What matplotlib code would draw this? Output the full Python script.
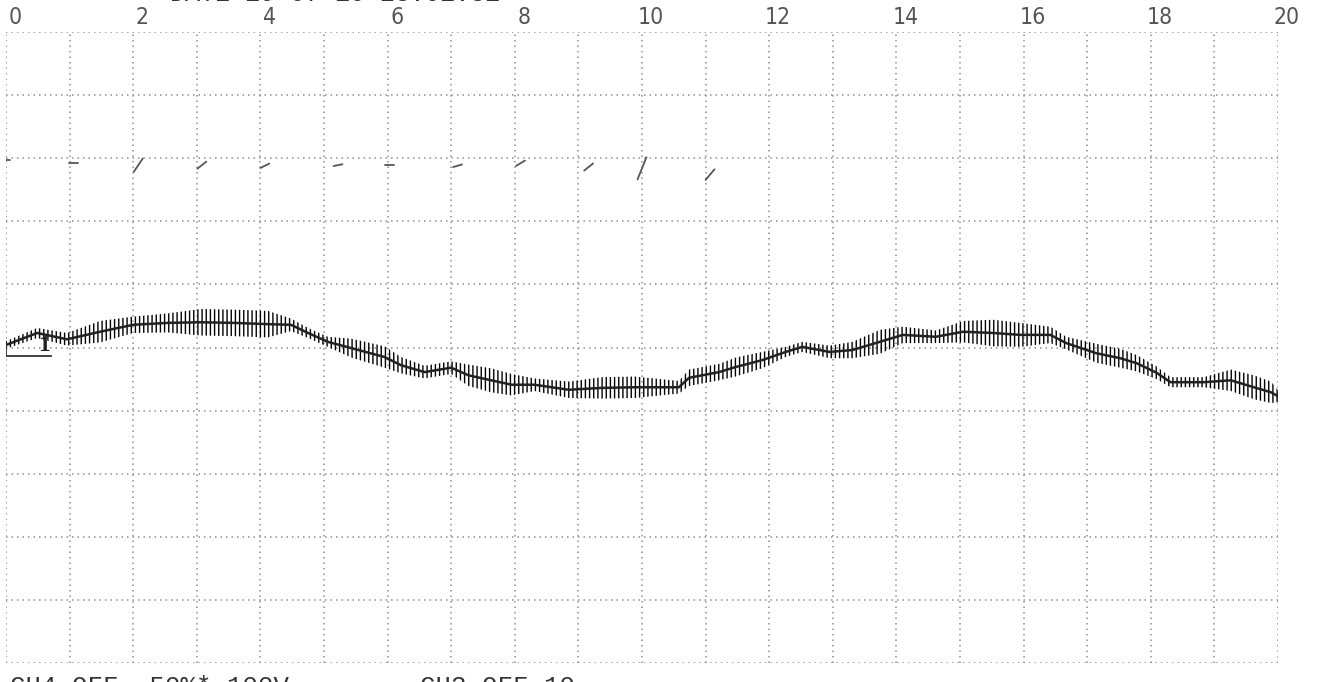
import numpy as np
import matplotlib
matplotlib.use("Agg")
import matplotlib.pyplot as plt
from matplotlib.transforms import ScaledTranslation

plt.rcParams['hatch.color'] = '#2a2a2a'
plt.rcParams['hatch.linewidth'] = 1.0

# Trace (time in s, level in grid divisions from bottom)
trace_t = [0.00, 0.49, 0.96, 1.48, 2.00, 2.54, 3.06, 3.58, 4.12, 4.48, 4.75, 5.06,
           5.43, 5.95, 6.21, 6.58, 7.00, 7.27, 7.63, 7.95, 8.31, 8.85, 9.37, 9.89,
           10.58, 10.74, 11.21, 11.47, 11.89, 12.26, 12.52, 12.95, 13.31, 13.74, 14.10,
           14.62, 15.05, 15.52, 15.95, 16.42, 16.67, 17.14, 17.52, 17.78, 18.09, 18.31,
           18.83, 19.26, 19.62, 19.89, 20.05]
trace_y = [5.04, 5.23, 5.13, 5.25, 5.36, 5.39, 5.40, 5.39, 5.37, 5.36, 5.23, 5.09,
           4.99, 4.85, 4.72, 4.61, 4.68, 4.56, 4.48, 4.41, 4.41, 4.33, 4.36, 4.37,
           4.37, 4.52, 4.61, 4.69, 4.80, 4.93, 5.01, 4.93, 4.96, 5.09, 5.20,
           5.17, 5.25, 5.23, 5.20, 5.20, 5.07, 4.91, 4.83, 4.75, 4.60, 4.45,
           4.45, 4.48, 4.37, 4.29, 4.20]
# half-width of the noise band around the trace
trace_spread = [0.06, 0.08, 0.10, 0.17, 0.13, 0.15, 0.21, 0.21, 0.21, 0.10, 0.08, 0.08,
                0.15, 0.17, 0.13, 0.10, 0.10, 0.17, 0.19, 0.17, 0.10, 0.13, 0.17, 0.17,
                0.10, 0.13, 0.13, 0.15, 0.13, 0.08, 0.08, 0.10, 0.13, 0.19, 0.13,
                0.10, 0.17, 0.21, 0.19, 0.13, 0.10, 0.15, 0.15, 0.13, 0.10, 0.08,
                0.08, 0.17, 0.19, 0.17, 0.06]

# event marks of the second pen
mark_t = [0.0, 1.06, 2.08, 3.08, 4.07, 5.22, 6.03, 7.10, 8.09, 9.16, 10.0, 11.07]
mark_y = [7.97, 7.92, 7.89, 7.89, 7.88, 7.89, 7.89, 7.88, 7.92, 7.86, 7.84, 7.74]
mark_slope = [0.0, 0.0, 1.5, 0.8, 0.5, 0.2, 0.0, 0.3, 0.6, 0.8, 2.5, 1.2]

xtick_vals = list(range(0, 21, 2))
header_text = "DATE 19-07-10 23:01:31"
footer_left = "CH4 OFF  50%* 100V"
footer_right = "CH3 OFF 10"

fig = plt.figure(figsize=(13.19, 6.82), dpi=100)
ax = fig.add_axes([6 / 1319, 19 / 682, 1272 / 1319, 631 / 682])
ax.set_xlim(0, 20)
ax.set_ylim(0, 10)
ax.axis('off')

# dotted chart-paper grid
grid_style = dict(color='#8f8f8f', lw=1.1, linestyle=(0, (1, 2.6)), zorder=1)
ax.vlines(np.arange(0, 21), 0, 10, **grid_style)
ax.hlines(np.arange(0, 11), 0, 20, **grid_style)

# noise band drawn as vertical hatch, then the trace itself
t = np.array(trace_t)
y = np.array(trace_y)
s = np.array(trace_spread)
ax.fill_between(t, y - s, y + s, facecolor='none', hatch='||||', linewidth=0, zorder=2)
ax.plot(t, y, color='#222222', lw=1.8, zorder=3)

# channel marker "1"
ax.plot([0, 0, 0.7], [5.05, 4.87, 4.87], color='#333333', lw=1.3, zorder=3)
ax.text(0.6, 4.87, "1", fontsize=17, family='Liberation Serif', weight='bold',
        color='#222222', ha='center', va='bottom', zorder=4)

# second pen marks
for mt, my, ms in zip(mark_t, mark_y, mark_slope):
    dx = 0.07
    ax.plot([mt - dx, mt + dx], [my - ms * dx, my + ms * dx], color='#555555',
            lw=1.3, solid_capstyle='round', zorder=3)

# top scale numbers
shift = ScaledTranslation(0.09, 0.14, fig.dpi_scale_trans)
for v in xtick_vals:
    ax.text(v, 1.0, str(v), transform=ax.get_xaxis_transform() + shift,
            ha='center', va='center', fontsize=16.5, color='#555555',
            family=['DejaVu Sans Condensed', 'Liberation Sans Narrow', 'DejaVu Sans'],
            stretch='condensed')

# printer header / footer, partly outside the page
fig.text(170 / 1319, 1.0 + 6 / 682, header_text, ha='left', va='center',
         fontsize=18, family='Liberation Mono', color='#333333')
fig.text(10 / 1319, -5 / 682, footer_left, ha='left', va='center',
         fontsize=18.5, family='Liberation Mono', color='#333333')
fig.text(420 / 1319, -5 / 682, footer_right, ha='left', va='center',
         fontsize=18.5, family='Liberation Mono', color='#333333')

fig.savefig('out.png', dpi=100)
